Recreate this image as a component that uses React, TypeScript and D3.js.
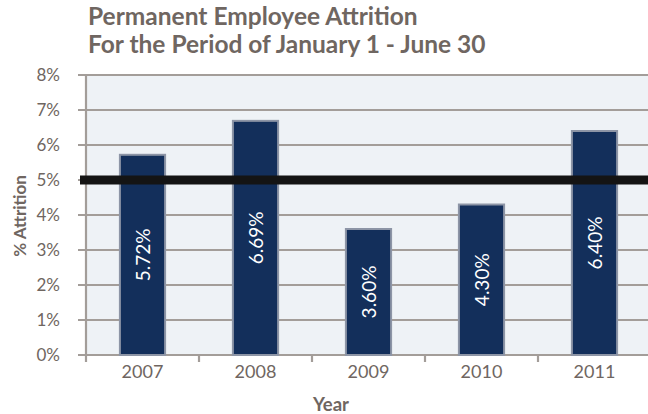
import React from "react";
import * as d3 from "d3";

const years = ["2007", "2008", "2009", "2010", "2011"];
const attrition = [5.72, 6.69, 3.6, 4.3, 6.4];
const yTicks = [0, 1, 2, 3, 4, 5, 6, 7, 8];
const target = 5;
const titleLines = ["Permanent Employee Attrition", "For the Period of January 1 - June 30"];

const W = 648;
const H = 414;
const FONT = "Lato, 'Open Sans', sans-serif";
const TXT = "#6f6661";

export default function App() {
  const left = 86;
  const right = 651;
  const top = 75;
  const bottom = 355;
  const x = d3.scaleBand<string>().domain(years).range([left, right]).paddingInner(0.6).paddingOuter(0.3);
  const xb = d3.scaleBand<string>().domain(years).range([left, right]);
  const y = d3.scaleLinear().domain([0, 8]).range([bottom, top]);

  return (
    <div style={{ position: "absolute", left: 0, top: 0 }}>
      <svg width={W} height={H} style={{ display: "block", background: "#fff" }}>
        {titleLines.map((t, i) => (
          <text key={i} x={88} y={25 + i * 28} fontFamily={FONT} fontWeight={700} fontSize={24.5} fill={TXT}>
            {t}
          </text>
        ))}
        <rect x={left} y={top} width={W - left} height={bottom - top} fill="#eef2f6" />
        {yTicks.map((t) => (
          <g key={t}>
            <line x1={78} x2={W} y1={y(t)} y2={y(t)} stroke="#a39d99" strokeWidth={2.2} />
            <text x={60} y={y(t) + 6} textAnchor="end" fontFamily={FONT} fontSize={17} fill={TXT}>
              {t}%
            </text>
          </g>
        ))}
        <line x1={left} x2={left} y1={top} y2={bottom + 7} stroke="#a39d99" strokeWidth={2.2} />
        {years.map((yr) => (
          <line key={"t" + yr} x1={xb(yr)! + xb.bandwidth()} x2={xb(yr)! + xb.bandwidth()} y1={bottom} y2={bottom + 7} stroke="#a39d99" strokeWidth={2.2} />
        ))}
        {years.map((yr, i) => {
          const v = attrition[i];
          const bx = x(yr)!;
          const bw = x.bandwidth();
          const cx = bx + bw / 2;
          const cy = (y(v) + y(0)) / 2;
          return (
            <g key={yr}>
              <rect x={bx} y={y(v)} width={bw} height={y(0) - y(v)} fill="#132f5b" stroke="#8d95a6" strokeWidth={2} />
              <text
                x={cx}
                y={cy}
                transform={`rotate(-90, ${cx}, ${cy})`}
                textAnchor="middle"
                dominantBaseline="central"
                fontFamily={FONT}
                fontSize={19}
                fill="#ffffff"
              >
                {v.toFixed(2)}%
              </text>
              <text x={cx} y={378} textAnchor="middle" fontFamily={FONT} fontSize={18} fill={TXT}>
                {yr}
              </text>
            </g>
          );
        })}
        <line x1={80} x2={W} y1={y(target)} y2={y(target)} stroke="#141414" strokeWidth={9} />
        <text x={331} y={411} textAnchor="middle" fontFamily={FONT} fontWeight={700} fontSize={18.5} fill={TXT}>
          Year
        </text>
        <text
          x={19}
          y={216}
          transform="rotate(-90, 19, 216)"
          textAnchor="middle"
          dominantBaseline="central"
          fontFamily={FONT}
          fontWeight={700}
          fontSize={17}
          fill={TXT}
        >
          % Attrition
        </text>
      </svg>
    </div>
  );
}
